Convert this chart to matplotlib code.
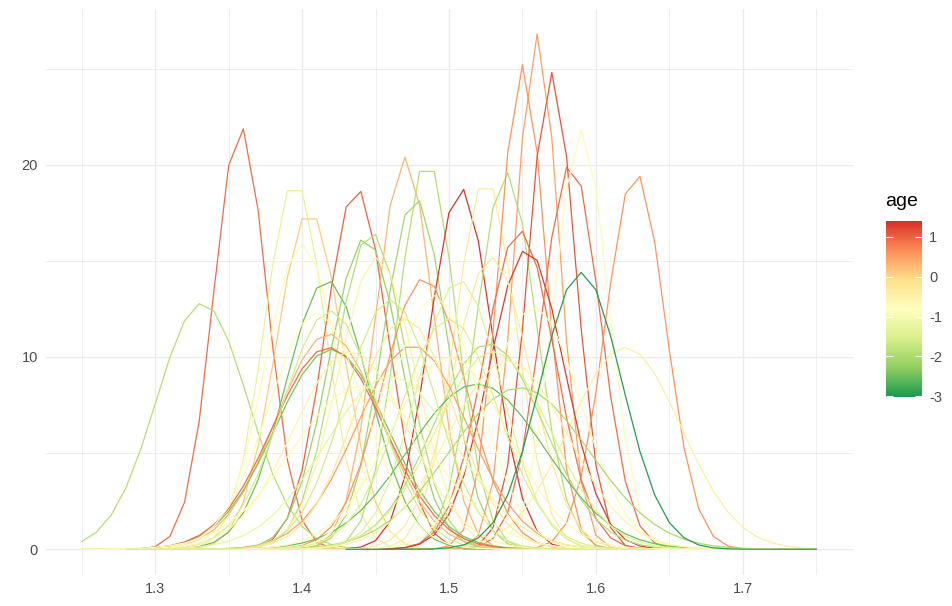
import matplotlib
matplotlib.use("Agg")
import matplotlib.pyplot as plt
import numpy as np
from matplotlib.colors import LinearSegmentedColormap, Normalize
from matplotlib.cm import ScalarMappable

plt.rcParams['font.family'] = ['Liberation Sans', 'DejaVu Sans']
plt.rcParams['axes.unicode_minus'] = False

# per-curve centre, peak height and age value
means = [1.358, 1.332, 1.395, 1.405, 1.400, 1.437, 1.470, 1.485, 1.477, 1.508,
         1.525, 1.539, 1.560, 1.550, 1.570, 1.583, 1.590, 1.627, 1.620, 1.548,
         1.553, 1.417, 1.447, 1.443, 1.483, 1.507, 1.451, 1.418, 1.420, 1.418,
         1.419, 1.529, 1.558, 1.527, 1.519, 1.548, 1.475, 1.433, 1.410, 1.490,
         1.500, 1.470, 1.460, 1.530, 1.500, 1.440, 1.540, 1.460, 1.590]
peaks = [22.0, 12.8, 19.2, 17.6, 15.9, 18.8, 20.4, 20.3, 18.3, 18.8,
         19.3, 19.6, 26.8, 25.2, 24.8, 20.1, 21.8, 19.6, 10.5, 16.6,
         15.6, 14.0, 16.5, 16.2, 14.1, 14.0, 15.2, 11.2, 10.4, 10.5,
         12.4, 15.2, 12.6, 10.7, 8.6, 8.4, 10.6, 10.3, 12.3, 13.2,
         12.0, 12.0, 9.0, 10.3, 10.0, 8.5, 9.8, 13.0, 14.4]
ages = [0.9, -1.9, -1.3, 0.1, -0.7, 1.0, 0.3, -1.9, -2.1, 1.35,
        -0.3, -1.9, 0.5, 0.6, 1.1, 0.9, -0.9, 0.6, -0.4, 0.9,
        1.3, -2.5, -1.9, -2.2, 0.6, -1.4, -0.5, 0.3, -2.4, 0.9,
        -1.6, -0.3, -0.9, -1.9, -2.5, -2.0, 0.5, -0.5, -0.9, -0.8,
        -1.5, -0.3, -1.2, -1.4, -0.6, -0.7, -0.5, -1.6, -2.95]

x_grid = np.round(np.arange(1.25, 1.7501, 0.01), 2)

cmap = LinearSegmentedColormap.from_list(
    'rdylgn7', ['#1A9850', '#91CF60', '#D9EF8B', '#FFFFBF', '#FEE08B', '#FC8D59', '#D73027'])
norm = Normalize(vmin=-3.02, vmax=1.40)

fig = plt.figure(figsize=(9.52, 6.06), dpi=100)
ax = fig.add_axes([45 / 952, 31 / 606, 808 / 952, 566 / 606])

for m, p, a in zip(means, peaks, ages):
    sd = 1.0 / (p * np.sqrt(2 * np.pi))
    keep = (x_grid >= m - 6 * sd) & (x_grid <= m + 6 * sd)
    xs = x_grid[keep]
    ys = p * np.exp(-0.5 * ((xs - m) / sd) ** 2)
    ax.plot(xs, ys, color=cmap(norm(a)), linewidth=0.9, zorder=3)

ax.set_xlim(1.225, 1.775)
ax.set_ylim(-1.34, 28.1)
ax.set_xticks([1.3, 1.4, 1.5, 1.6, 1.7])
ax.set_xticks([1.25, 1.35, 1.45, 1.55, 1.65, 1.75], minor=True)
ax.set_yticks([0, 10, 20])
ax.set_yticks([5, 15, 25], minor=True)
ax.set_xticklabels(['1.3', '1.4', '1.5', '1.6', '1.7'])
ax.grid(True, which='major', color='#EBEBEB', linewidth=1.0, zorder=0)
ax.grid(True, which='minor', color='#EBEBEB', linewidth=0.55, zorder=0)
ax.set_axisbelow(True)
for s in ax.spines.values():
    s.set_visible(False)
ax.tick_params(which='both', length=0, labelsize=10.5, labelcolor='#4D4D4D', pad=5)

# colour bar legend
cax = fig.add_axes([886 / 952, (606 - 397) / 606, 36 / 952, 176 / 606])
cb = fig.colorbar(ScalarMappable(norm=norm, cmap=cmap), cax=cax)
cb.outline.set_visible(False)
cb.set_ticks([1, 0, -1, -2, -3])
cb.set_ticklabels(['1', '0', '-1', '-2', '-3'])
cax.yaxis.set_ticks_position('both')
cax.tick_params(direction='in', color='white', length=5, width=0.8,
                labelsize=10.5, labelcolor='#4D4D4D', labelleft=False, labelright=True, pad=5)
fig.text(885 / 952, 1 - 202 / 606, 'age', fontsize=14, ha='left', va='center')

fig.savefig('out.png', dpi=100)
